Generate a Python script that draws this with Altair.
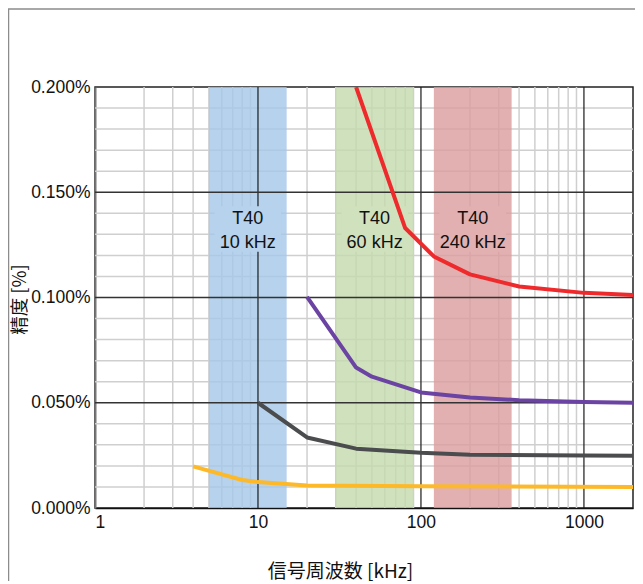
import math
import altair as alt
import pandas as pd

# ---- axis / grid values ----
x_labels = [1, 10, 100, 1000]
y_labels = [0.0, 0.05, 0.10, 0.15, 0.20]
x_minor = [2, 3, 4, 5, 6, 7, 8, 9, 20, 30, 40, 50, 60, 70, 80, 90,
           200, 300, 400, 500, 600, 700, 800, 900]
x_major = [10, 100, 1000]
y_minor = [0.01, 0.02, 0.03, 0.04, 0.06, 0.07, 0.08, 0.09,
           0.11, 0.12, 0.13, 0.14, 0.16, 0.17, 0.18, 0.19]
y_major = [0.05, 0.10, 0.15]

# ---- bands ----
band_names = ["T40\n10 kHz", "T40\n60 kHz", "T40\n240 kHz"]
band_lo = [5, 30, 120]
band_hi = [15, 90, 360]
band_fill = ["#a5c7e7", "#c4d9ac", "#db9c9c"]
band_solid = ["#b7d2ec", "#d0e1bd", "#e2b0b0"]
label_y = 0.1325

# ---- series (frequency kHz, accuracy %) ----
red_f = [40, 80, 120, 200, 400, 1000, 2000]
red_v = [0.200, 0.133, 0.1195, 0.111, 0.1052, 0.1022, 0.1012]
purple_f = [20, 40, 50, 100, 200, 400, 1000, 2000]
purple_v = [0.1003, 0.0667, 0.0624, 0.0549, 0.0525, 0.0512, 0.0503, 0.0500]
grey_f = [10, 20, 40, 100, 200, 1000, 2000]
grey_v = [0.0500, 0.0335, 0.0282, 0.0262, 0.0253, 0.0249, 0.0248]
yellow_f = [4, 8, 10, 20, 100, 2000]
yellow_v = [0.0198, 0.0133, 0.0123, 0.0107, 0.0103, 0.0100]

series_names = ["red", "purple", "grey", "yellow"]
series_colors = ["#ee2a2c", "#6b44a3", "#4a4c4e", "#fdb928"]

rows = []
for name, fs, vs in [("red", red_f, red_v), ("purple", purple_f, purple_v),
                     ("grey", grey_f, grey_v), ("yellow", yellow_f, yellow_v)]:
    for i, (f, v) in enumerate(zip(fs, vs)):
        rows.append({"series": name, "f": f, "v": v, "order": i})
lines_df = pd.DataFrame(rows)

bands_df = pd.DataFrame({
    "name": band_names, "lo": band_lo, "hi": band_hi,
    "center": [math.sqrt(a * b) for a, b in zip(band_lo, band_hi)],
})
bands_df["blo"] = bands_df["center"] / 1.6
bands_df["bhi"] = bands_df["center"] * 1.6
bands_df["ylo"] = label_y - 0.0108
bands_df["yhi"] = label_y + 0.0108
bands_df["yy"] = label_y

xscale = alt.Scale(type="log", domain=[1, 2000], nice=False)
yscale = alt.Scale(domain=[0, 0.2], nice=False)

xaxis = alt.Axis(values=x_labels, labelExpr="format(datum.value, 'd')",
                 title="信号周波数 [kHz]", grid=False, ticks=False,
                 domainColor="#111111", domainWidth=1.5,
                 labelFont="Liberation Sans",
                 labelFontSize=17.5, labelPadding=5, labelColor="#111111",
                 titleFontSize=19, titleFont="Noto Sans CJK JP",
                 titleFontWeight="normal", titleColor="#111111",
                 titleX=245, titleY=63, titleBaseline="middle")
yaxis = alt.Axis(values=y_labels, labelExpr="format(datum.value, '.3f') + '%'",
                 title="精度 [%]", grid=False, ticks=False,
                 domainColor="#777777", domainWidth=2,
                 labelFont="Liberation Sans",
                 labelFontSize=17.5, labelPadding=5, labelColor="#111111",
                 titleFontSize=18.5, titleFont="Noto Sans CJK JP",
                 titleFontWeight="normal", titleColor="#111111",
                 titleX=-76, titleY=212, titleBaseline="middle", titleAngle=-90)

# minor grid
gx_minor = alt.Chart(pd.DataFrame({"x": x_minor})).mark_rule(
    color="#cfcfcf", strokeWidth=1.5).encode(x=alt.X("x:Q", scale=xscale, axis=xaxis))
gy_minor = alt.Chart(pd.DataFrame({"y": y_minor})).mark_rule(
    color="#cfcfcf", strokeWidth=1.5).encode(y=alt.Y("y:Q", scale=yscale, axis=yaxis))

# bands
bands = alt.Chart(bands_df).mark_rect(opacity=0.8).encode(
    x=alt.X("lo:Q", scale=xscale), x2="hi:Q",
    color=alt.Color("name:N", scale=alt.Scale(domain=band_names, range=band_fill), legend=None),
)

# major grid
gx_major = alt.Chart(pd.DataFrame({"x": x_major})).mark_rule(
    color="#1a1a1a", strokeWidth=1.2).encode(x=alt.X("x:Q", scale=xscale))
gy_major = alt.Chart(pd.DataFrame({"y": y_major})).mark_rule(
    color="#333333", strokeWidth=1.3).encode(y=alt.Y("y:Q", scale=yscale))

# label boxes and texts
boxes = alt.Chart(bands_df).mark_rect().encode(
    x=alt.X("blo:Q", scale=xscale), x2="bhi:Q",
    y=alt.Y("ylo:Q", scale=yscale), y2="yhi:Q",
    fill=alt.Fill("name:N", scale=alt.Scale(domain=band_names, range=band_solid), legend=None),
)
texts = alt.Chart(bands_df).mark_text(
    lineBreak="\n", fontSize=18, lineHeight=24, baseline="middle", dy=-10,
    align="center", color="#111111", font="Liberation Sans").encode(
    x=alt.X("center:Q", scale=xscale),
    y=alt.Y("yy:Q", scale=yscale),
    text="name:N",
)

# series
lines = alt.Chart(lines_df).mark_line(strokeWidth=4, strokeJoin="round", clip=True).encode(
    x=alt.X("f:Q", scale=xscale),
    y=alt.Y("v:Q", scale=yscale),
    color=alt.Color("series:N", scale=alt.Scale(domain=series_names, range=series_colors), legend=None),
    order="order:Q",
    detail="series:N",
)

frame = alt.Chart(pd.DataFrame({"a": [0]})).mark_rect(
    fillOpacity=0, stroke="#8c8c8c", strokeWidth=1.5, clip=False).encode(
    x=alt.value(-86.5), x2=alt.value(800), y=alt.value(-78), y2=alt.value(800))

chart = alt.layer(
    gx_minor, gy_minor, bands, gx_major, gy_major, boxes, texts, lines, frame
).resolve_scale(color="independent").properties(
    width=538, height=421,
    autosize=alt.AutoSizeParams(type="none"),
    padding={"left": 87, "top": 79, "right": 2, "bottom": 73},
).configure(
    font="Liberation Sans",
).configure_view(
    stroke="#222222", strokeWidth=1.5,
)

chart.save("out.html", embed_options={"renderer": "svg", "actions": False})
